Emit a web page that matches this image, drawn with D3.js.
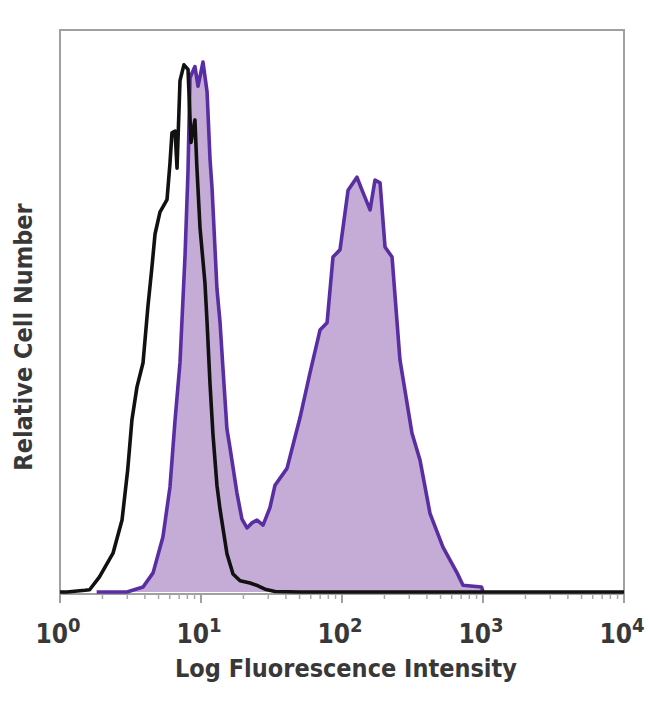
<!DOCTYPE html>
<html>
<head>
<meta charset="utf-8">
<script src="https://cdn.jsdelivr.net/npm/d3@7"></script>
<style>
  body { margin: 0; background: #fff; }
  text { font-family: "Liberation Sans Narrow", "DejaVu Sans Condensed", "Roboto Condensed", "Liberation Sans", sans-serif; fill: #383838; font-weight: 600; }
</style>
</head>
<body>
<div id="chart"></div>
<script>
// log10 of intensity and relative count (0-100) for the isotype control (black)
const controlLog = [0.0, 0.05, 0.177, 0.21, 0.28, 0.376, 0.44, 0.48, 0.51, 0.546, 0.589, 0.624, 0.652, 0.674, 0.709, 0.759, 0.78, 0.794, 0.816, 0.83, 0.851, 0.879, 0.908, 0.929, 0.957, 0.97, 0.993, 1.028, 1.043, 1.064, 1.085, 1.113, 1.135, 1.184, 1.227, 1.277, 1.348, 1.404, 1.454, 1.525, 1.7, 4.0];
const controlCount = [0, 0, 0.3, 0.4, 2.7, 6.9, 12.8, 21.7, 30.6, 36.5, 40.8, 50.9, 57.8, 63.7, 67.6, 69.8, 76.3, 81.7, 82, 75.4, 91, 93.8, 93, 80, 84, 76, 64.8, 55, 48, 37, 28, 19, 14.7, 6.8, 3.2, 2.0, 1.6, 1.1, 0.5, 0.1, 0, 0];

// stained sample (purple)
const stainedLog = [0.26, 0.475, 0.589, 0.66, 0.73, 0.78, 0.816, 0.851, 0.887, 0.908, 0.922, 0.957, 0.979, 1.014, 1.043, 1.064, 1.078, 1.113, 1.135, 1.156, 1.184, 1.206, 1.255, 1.29, 1.326, 1.362, 1.397, 1.44, 1.489, 1.525, 1.61, 1.702, 1.773, 1.844, 1.894, 1.936, 1.986, 2.043, 2.106, 2.142, 2.199, 2.234, 2.27, 2.305, 2.355, 2.411, 2.496, 2.553, 2.624, 2.716, 2.816, 2.858, 2.99, 3.0];
const stainedCount = [0, 0, 0.9, 3.4, 9.8, 18.7, 30.6, 40.8, 60, 75, 91.5, 93.5, 90, 94.3, 89, 77, 72, 54, 48, 39.7, 29, 25.6, 17.6, 13, 11.4, 12.3, 12.8, 11.9, 15, 19, 22, 31, 39, 46.6, 47.9, 59.6, 60.9, 71.5, 73.8, 71.5, 68, 73.3, 72.8, 61.4, 59.6, 41.3, 28.3, 23.5, 14, 8, 3.4, 1.2, 0.9, 0];

const tickExponents = [0, 1, 2, 3, 4];
const xTitle = "Log Fluorescence Intensity";
const yTitle = "Relative Cell Number";

const width = 650, height = 704;
const margin = {top: 30, right: 26, bottom: 110, left: 60};
const plotW = width - margin.left - margin.right;
const plotH = height - margin.top - margin.bottom;

const svg = d3.select("#chart")
    .append("svg")
    .attr("width", width)
    .attr("height", height);

const g = svg.append("g")
    .attr("transform", `translate(${margin.left}, ${margin.top})`);

// scales
const x = d3.scaleLog()
    .domain([1, 1e4])
    .range([0, plotW]);

const y = d3.scaleLinear()
    .domain([0, 100])
    .range([plotH - 2, 0]);

// frame
g.append("rect")
    .attr("x", 0)
    .attr("y", 0)
    .attr("width", plotW)
    .attr("height", plotH)
    .attr("fill", "none")
    .attr("stroke", "#a0a0a0")
    .attr("stroke-width", 2);

// x axis ticks (major + minor) drawn below the frame
const minorTicks = [];
for (let e = 0; e < 4; e++) {
    for (let m = 2; m <= 9; m++) minorTicks.push(m * Math.pow(10, e));
}
g.append("g")
    .selectAll("line.minor")
    .data(minorTicks)
    .join("line")
    .attr("x1", d => x(d))
    .attr("x2", d => x(d))
    .attr("y1", plotH)
    .attr("y2", plotH + 5)
    .attr("stroke", "#a8a8a8")
    .attr("stroke-width", 1.5);

g.append("g")
    .selectAll("line.major")
    .data(tickExponents)
    .join("line")
    .attr("x1", d => x(Math.pow(10, d)))
    .attr("x2", d => x(Math.pow(10, d)))
    .attr("y1", plotH)
    .attr("y2", plotH + 9)
    .attr("stroke", "#a0a0a0")
    .attr("stroke-width", 2);

// tick labels 10^n
const lbl = g.append("g")
    .selectAll("text")
    .data(tickExponents)
    .join("text")
    .attr("x", d => x(Math.pow(10, d)) - 2)
    .attr("y", plotH + 49)
    .attr("text-anchor", "middle")
    .style("font-size", "26px");
lbl.append("tspan").text("10");
lbl.append("tspan")
    .attr("dy", -11)
    .style("font-size", "20px")
    .text(d => d);

// histograms
const controlData = controlLog.map((v, i) => ({lx: v, c: controlCount[i]}));
const stainedData = stainedLog.map((v, i) => ({lx: v, c: stainedCount[i]}));

const area = d3.area()
    .x(d => x(Math.pow(10, d.lx)))
    .y0(y(0))
    .y1(d => y(d.c));

const line = d3.line()
    .x(d => x(Math.pow(10, d.lx)))
    .y(d => y(d.c));

g.append("path")
    .datum(stainedData)
    .attr("d", area)
    .attr("fill", "#c5acd7");

g.append("path")
    .datum(stainedData)
    .attr("d", line)
    .attr("fill", "none")
    .attr("stroke", "#5a2ea3")
    .attr("stroke-width", 3.6)
    .attr("stroke-linejoin", "round");

g.append("path")
    .datum(controlData)
    .attr("d", line)
    .attr("fill", "none")
    .attr("stroke", "#111")
    .attr("stroke-width", 3.6)
    .attr("stroke-linejoin", "round");

// axis titles
svg.append("text")
    .attr("x", 346)
    .attr("y", 677)
    .attr("text-anchor", "middle")
    .style("font-size", "25px")
    .text(xTitle);

svg.append("text")
    .attr("transform", "translate(32, 337) rotate(-90)")
    .attr("text-anchor", "middle")
    .style("font-size", "25px")
    .text(yTitle);
</script>
</body>
</html>
